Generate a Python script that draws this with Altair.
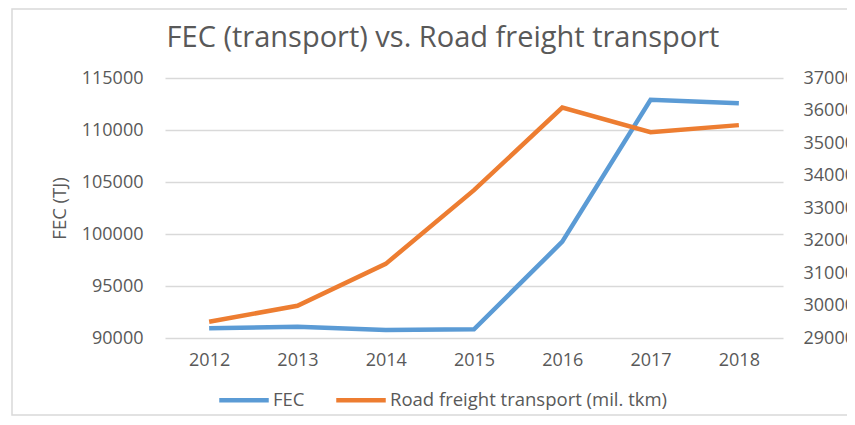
import altair as alt
import pandas as pd

years = ["2012", "2013", "2014", "2015", "2016", "2017", "2018"]
fec = [90930, 91090, 90770, 90840, 99260, 112900, 112570]
road = [29500, 29990, 31280, 33550, 36090, 35330, 35550]
series = ["FEC", "Road freight transport (mil. tkm)"]
colors = ["#5B9BD5", "#ED7D31"]
left_ticks = [90000, 95000, 100000, 105000, 110000, 115000]
right_ticks = [29000, 30000, 31000, 32000, 33000, 34000, 35000, 36000, 37000]

df = pd.DataFrame({"year": years, "fec": fec, "road": road,
                   "s1": [series[0]] * len(years), "s2": [series[1]] * len(years)})

FONT = "Open Sans"
TXT = "#595959"

base = alt.Chart(df)

x = alt.X("year:O", title=None,
          axis=alt.Axis(labelAngle=0, ticks=False, domain=False, labelPadding=13,
                        labelFontSize=18, labelColor=TXT, labelFont=FONT))

color_scale = alt.Scale(domain=series, range=colors)
legend = alt.Legend(title=None, orient="none", legendX=52, legendY=295, direction="horizontal",
                    symbolType="stroke", symbolSize=2450, symbolStrokeWidth=4.5,
                    labelFontSize=18.5, labelColor=TXT, labelFont=FONT, labelOffset=2,
                    labelLimit=500, columnPadding=22)

line_fec = base.mark_line(strokeWidth=4.5).encode(
    x=x,
    y=alt.Y("fec:Q", title="FEC (TJ)",
            scale=alt.Scale(domain=[90000, 115000], nice=False, zero=False),
            axis=alt.Axis(values=left_ticks, format="d", ticks=False, domain=False,
                          grid=True, gridColor="#D9D9D9", gridWidth=1.5,
                          labelPadding=22, labelFontSize=18, labelColor=TXT, labelFont=FONT,
                          titleFontSize=18.5, titleColor=TXT, titleFont=FONT,
                          titleFontWeight="normal", titlePadding=12)),
    color=alt.Color("s1:N", scale=color_scale, legend=legend),
)

line_road = base.mark_line(strokeWidth=4.5).encode(
    x=x,
    y=alt.Y("road:Q", title=None,
            scale=alt.Scale(domain=[29000, 37000], nice=False, zero=False),
            axis=alt.Axis(orient="right", values=right_ticks, format="d", ticks=False,
                          domain=False, grid=False, labelPadding=20, labelAlign="left",
                          labelFontSize=18, labelColor=TXT, labelFont=FONT)),
    color=alt.Color("s2:N", scale=color_scale, legend=legend),
)

border = alt.Chart(alt.Data(values=[{}])).mark_rect(
    fill=None, stroke="#D9D9D9", strokeWidth=1.5
).encode(x=alt.value(-153), x2=alt.value(720), y=alt.value(-69), y2=alt.value(337))

chart = alt.layer(border, line_fec, line_road).resolve_scale(y="independent").properties(
    width=618, height=260,
    autosize=alt.AutoSizeParams(type="none"),
    padding={"left": 157, "top": 70, "right": 64, "bottom": 79},
    title=alt.TitleParams("FEC (transport) vs. Road freight transport", fontSize=29,
                          font=FONT, color=TXT, fontWeight="normal", anchor="middle",
                          dx=-31, offset=-45),
).configure_view(stroke=None)

chart.save("out.html", embed_options={"renderer": "svg", "actions": False})
